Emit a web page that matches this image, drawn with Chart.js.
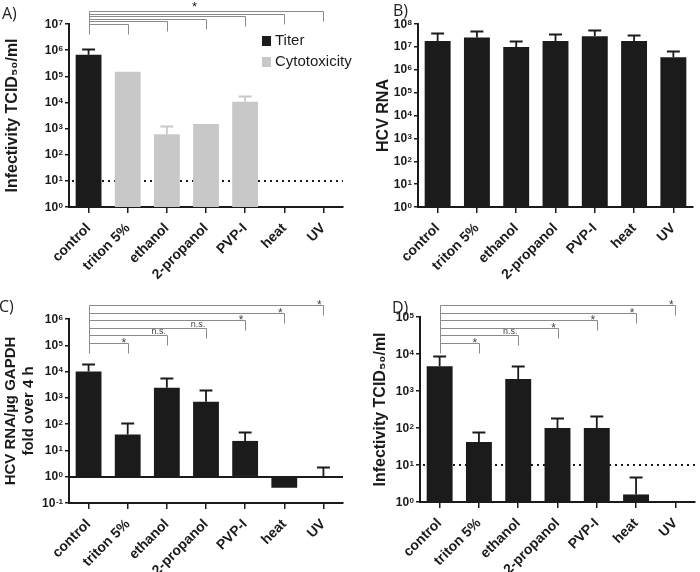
<!DOCTYPE html>
<html>
<head>
<meta charset="utf-8">
<title>HCV inactivation</title>
<script src="https://cdn.jsdelivr.net/npm/chart.js@4.4.1/dist/chart.umd.min.js"></script>
<style>
  body { margin: 0; background: #fff; }
  #wrap { position: relative; width: 700px; height: 572px; overflow: hidden; background: #fff; }
  canvas { position: absolute; }
</style>
</head>
<body>
<div id="wrap">
  <canvas id="chartA" width="362" height="290" style="left:0;top:0"></canvas>
  <canvas id="chartB" width="350" height="290" style="left:350px;top:0"></canvas>
  <canvas id="chartC" width="350" height="282" style="left:0;top:290px"></canvas>
  <canvas id="chartD" width="350" height="282" style="left:350px;top:290px"></canvas>
</div>
<script>
var treatments = ['control', 'triton 5%', 'ethanol', '2-propanol', 'PVP-I', 'heat', 'UV'];

// A) infectivity: titer of control vs cytotoxicity limit of each treatment
var titerA = [6.6e5, null, null, null, null, null, null];
var titerErrA = [1.1e6, null, null, null, null, null, null];
var cytoA = [null, 1.5e5, 600, 1500, 1.05e4, null, null];
var cytoErrA = [null, null, 1300, null, 1.8e4, null, null];
var sigA = [null, '', '', '', '', '', ''];
var sigAOverall = '*';

// B) HCV RNA
var rnaB = [1.8e7, 2.6e7, 1.0e7, 1.8e7, 2.9e7, 1.8e7, 3.5e6];
var rnaErrB = [4.0e7, 4.9e7, 1.8e7, 3.5e7, 5.4e7, 3.2e7, 6.5e6];

// C) HCV RNA / ug GAPDH, fold over 4 h
var foldC = [1.0e4, 40, 2400, 710, 23, 0.38, 1];
var foldErrC = [2.0e4, 112, 5800, 2000, 52, null, 2.4];
var sigC = [null, '*', 'n.s.', 'n.s.', '*', '*', '*'];

// D) infectivity TCID50/ml
var titerD = [4.7e3, 42, 2100, 100, 100, 1.6, null];
var titerErrD = [9.0e3, 78, 4.7e3, 185, 210, 4.8, null];
var sigD = [null, '*', 'n.s.', '*', '*', '*', '*'];

var ticksA = [1, 10, 100, 1e3, 1e4, 1e5, 1e6, 1e7];
var ticksB = [1, 10, 100, 1e3, 1e4, 1e5, 1e6, 1e7, 1e8];
var ticksC = [0.1, 1, 10, 100, 1e3, 1e4, 1e5, 1e6];
var ticksD = [1, 10, 100, 1e3, 1e4, 1e5];
var detectionLimit = 10;

var black = '#1b1b1b';
var grey = '#c8c8c8';
var bracketGrey = '#8a8a8a';
var fontFamily = '"Liberation Sans", Arial, sans-serif';
Chart.defaults.font.family = fontFamily;
Chart.defaults.color = black;

var extras = {
  id: 'extras',
  beforeDatasetsDraw: function(chart, args, o) {
    if (!o.limit) return;
    var ctx = chart.ctx, a = chart.chartArea;
    var y = Math.round(chart.scales.y.getPixelForValue(o.limit));
    ctx.save();
    ctx.strokeStyle = black;
    ctx.lineWidth = 2;
    ctx.setLineDash([2, 4]);
    ctx.beginPath();
    ctx.moveTo(a.left + 3, y);
    ctx.lineTo(a.right, y);
    ctx.stroke();
    ctx.restore();
  },
  afterDatasetsDraw: function(chart, args, o) {
    var ctx = chart.ctx, a = chart.chartArea, xs = chart.scales.x, ys = chart.scales.y;
    ctx.save();

    // error bars (upper only)
    chart.data.datasets.forEach(function(ds, di) {
      if (!ds.errors) return;
      var meta = chart.getDatasetMeta(di);
      ds.errors.forEach(function(err, i) {
        if (err == null || ds.data[i] == null) return;
        var bar = meta.data[i], half = bar.width / 4;
        var yErr = Math.round(ys.getPixelForValue(err)) + 0.5;
        ctx.strokeStyle = ds.backgroundColor;
        ctx.lineWidth = 1.8;
        ctx.beginPath();
        ctx.moveTo(bar.x, bar.y);
        ctx.lineTo(bar.x, yErr);
        ctx.moveTo(bar.x - half, yErr);
        ctx.lineTo(bar.x + half, yErr);
        ctx.stroke();
      });
    });

    if (o.baseline) {
      var yb = Math.round(ys.getPixelForValue(o.baseline));
      ctx.strokeStyle = black;
      ctx.lineWidth = 2;
      ctx.beginPath();
      ctx.moveTo(a.left, yb);
      ctx.lineTo(a.right, yb);
      ctx.stroke();
    }

    // significance brackets, all against control
    if (o.brackets) {
      var b = o.brackets;
      var x0 = Math.round(xs.getPixelForValue(0)) + 0.5;
      var top = a.top + b.offset;
      var ks = [];
      b.marks.forEach(function(m, k) { if (m !== null) ks.push(k); });
      ks.reverse();
      var lowest = Math.round(top + (ks.length - 1) * b.step) + 0.5;
      ctx.strokeStyle = bracketGrey;
      ctx.lineWidth = 1;
      ctx.beginPath();
      ctx.moveTo(x0, Math.round(top) + 0.5);
      ctx.lineTo(x0, lowest + b.drop);
      ks.forEach(function(k, lvl) {
        var y = Math.round(top + lvl * b.step) + 0.5;
        var x1 = Math.round(xs.getPixelForValue(k)) + 0.5;
        ctx.moveTo(x0, y);
        ctx.lineTo(x1, y);
        ctx.lineTo(x1, y + b.drop);
      });
      ctx.stroke();
      ctx.fillStyle = '#444';
      ctx.textAlign = 'center';
      ctx.textBaseline = 'alphabetic';
      ks.forEach(function(k, lvl) {
        var m = b.marks[k];
        var y = Math.round(top + lvl * b.step);
        var x1 = xs.getPixelForValue(k);
        if (m === '*') {
          ctx.font = '12px ' + fontFamily;
          ctx.fillText(m, x1 - 4, y + 4);
        } else if (m) {
          ctx.font = '9px ' + fontFamily;
          ctx.fillText(m, x1 - 8, y - 1);
        }
      });
      if (b.overall) {
        var xl = xs.getPixelForValue(ks[0]);
        ctx.fillStyle = black;
        ctx.font = '13px ' + fontFamily;
        ctx.fillText(b.overall, (x0 + xl) / 2 - 12, top);
      }
    }

    if (o.legend) {
      ctx.textAlign = 'left';
      ctx.textBaseline = 'middle';
      ctx.font = '15px ' + fontFamily;
      chart.data.datasets.forEach(function(ds, i) {
        ctx.fillStyle = ds.backgroundColor;
        ctx.fillRect(a.right - 81, a.top + 12 + i * 21, 9, 10);
        ctx.fillStyle = black;
        ctx.fillText(ds.label, a.right - 68, a.top + 17 + i * 21);
      });
    }

    if (o.letter) {
      ctx.textAlign = 'left';
      ctx.textBaseline = 'alphabetic';
      ctx.fillStyle = '#222';
      ctx.font = '16px "Open Sans", sans-serif';
      ctx.fillText(o.letter.text, o.letter.x, o.letter.y);
    }
    ctx.restore();
  },
  // power-of-ten tick labels with a raised exponent
  afterDraw: function(chart) {
    var ctx = chart.ctx, ys = chart.scales.y, right = chart.chartArea.left - 6;
    ctx.save();
    ctx.fillStyle = black;
    ctx.textAlign = 'left';
    ctx.textBaseline = 'alphabetic';
    ys.ticks.forEach(function(t) {
      var y = ys.getPixelForValue(t.value);
      var exp = String(Math.round(Math.log10(t.value)));
      ctx.font = 'bold 8px ' + fontFamily;
      var ew = ctx.measureText(exp).width;
      ctx.fillText(exp, right - ew, y + 0.5);
      ctx.font = 'bold 12px ' + fontFamily;
      var bw = ctx.measureText('10').width;
      ctx.fillText('10', right - ew - bw - 0.5, y + 3.5);
    });
    ctx.restore();
  }
};

function makeChart(id, cfg) {
  return new Chart(document.getElementById(id), {
    type: 'bar',
    data: { labels: treatments, datasets: cfg.datasets },
    options: {
      responsive: false,
      animation: false,
      layout: { padding: cfg.padding },
      datasets: { bar: { categoryPercentage: 1, barPercentage: 0.66, grouped: false, base: cfg.base } },
      plugins: { legend: { display: false }, tooltip: { enabled: false }, extras: cfg.extras },
      scales: {
        x: {
          afterFit: function(s) { s.height = cfg.xHeight; },
          ticks: { minRotation: 45, maxRotation: 45, autoSkip: false, padding: 7, color: black,
                   font: { size: 14, weight: 'bold' } },
          grid: { offset: false, drawOnChartArea: false, tickLength: 6, color: black, lineWidth: 1.5 },
          border: { color: black, width: 2 }
        },
        y: {
          type: 'logarithmic',
          min: cfg.ticks[0],
          max: cfg.ticks[cfg.ticks.length - 1],
          afterBuildTicks: function(s) { s.ticks = cfg.ticks.map(function(v) { return { value: v }; }); },
          afterFit: function(s) { s.width = cfg.yWidth; },
          ticks: { display: false, autoSkip: false },
          grid: { drawOnChartArea: false, tickLength: 4, color: black, lineWidth: 1.5 },
          border: { color: black, width: 2 },
          title: { display: true, text: cfg.yTitle, color: black, padding: { top: cfg.titlePad, bottom: 0 },
                   font: { size: cfg.titleSize, weight: 'bold', lineHeight: 1.2 } }
        }
      }
    },
    plugins: [extras]
  });
}

makeChart('chartA', {
  datasets: [
    { label: 'Titer', data: titerA, errors: titerErrA, backgroundColor: black },
    { label: 'Cytotoxicity', data: cytoA, errors: cytoErrA, backgroundColor: grey }
  ],
  ticks: ticksA, yWidth: 69, xHeight: 83, padding: { top: 24, right: 19, left: 0, bottom: 0 },
  yTitle: 'Infectivity TCID\u2085\u2080/ml', titleSize: 16, titlePad: 3,
  extras: { limit: detectionLimit, legend: true, letter: { text: 'A)', x: 2, y: 19 },
            brackets: { marks: sigA, overall: sigAOverall, offset: -13, step: 2.6, drop: 10 } }
});

makeChart('chartB', {
  datasets: [{ label: 'HCV RNA', data: rnaB, errors: rnaErrB, backgroundColor: black }],
  ticks: ticksB, yWidth: 68, xHeight: 83, padding: { top: 24, right: 7, left: 0, bottom: 0 },
  yTitle: 'HCV RNA', titleSize: 16, titlePad: 24,
  extras: { letter: { text: 'B)', x: 43, y: 16 } }
});

makeChart('chartC', {
  datasets: [{ label: 'HCV RNA/\u00b5g GAPDH', data: foldC, errors: foldErrC, backgroundColor: black }],
  ticks: ticksC, base: 1, yWidth: 69, xHeight: 69, padding: { top: 29, right: 7, left: 0, bottom: 0 },
  yTitle: ['HCV RNA/\u00b5g GAPDH', 'fold over 4 h'], titleSize: 15, titlePad: 2,
  extras: { baseline: 1, letter: { text: 'C)', x: -1, y: 22 },
            brackets: { marks: sigC, offset: -14, step: 7.6, drop: 10 } }
});

makeChart('chartD', {
  datasets: [{ label: 'Infectivity', data: titerD, errors: titerErrD, backgroundColor: black }],
  ticks: ticksD, yWidth: 70, xHeight: 70, padding: { top: 27, right: 5, left: 0, bottom: 0 },
  yTitle: 'Infectivity TCID\u2085\u2080/ml', titleSize: 16, titlePad: 21,
  extras: { limit: detectionLimit, letter: { text: 'D)', x: 42, y: 23 },
            brackets: { marks: sigD, offset: -12, step: 7.6, drop: 10 } }
});
</script>
</body>
</html>
